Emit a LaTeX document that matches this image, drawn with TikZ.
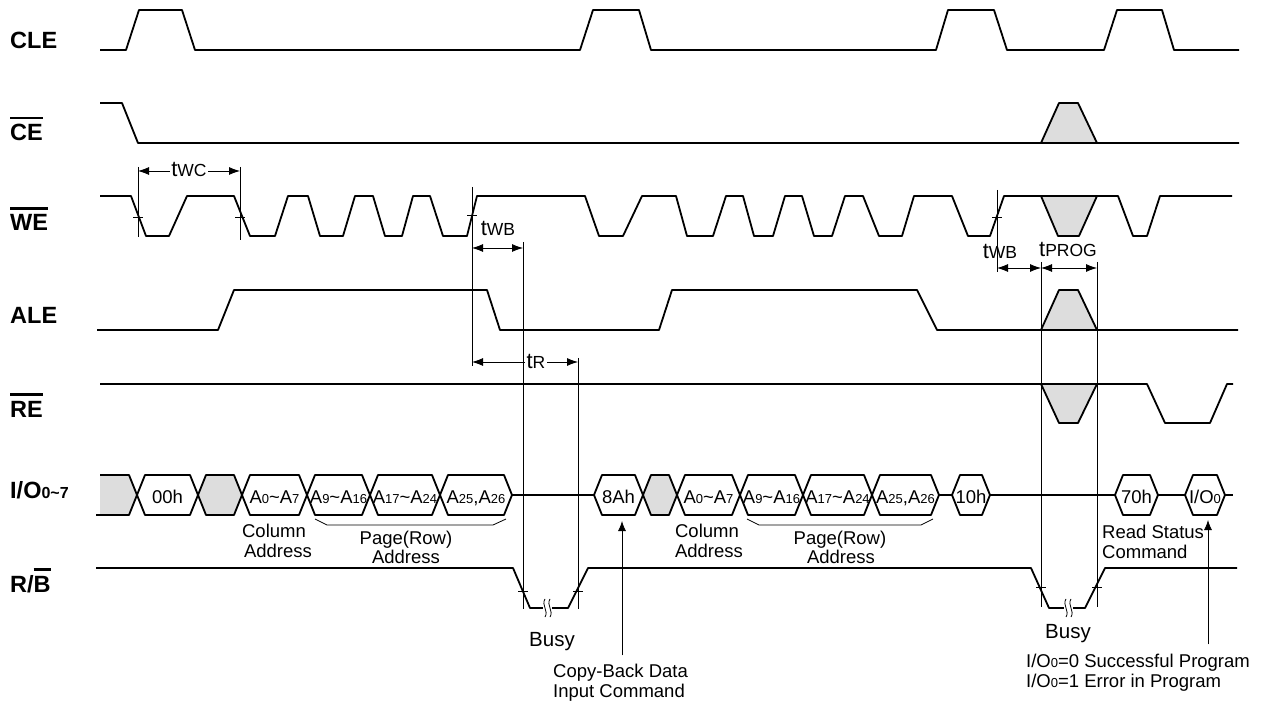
\documentclass[tikz,border=0pt]{standalone}
\usepackage{fontspec}
\setmainfont{Liberation Sans}
\usetikzlibrary{arrows.meta}
\definecolor{cellgray}{HTML}{DDDDDD}
\newcommand\sm[1]{{\fontsize{13}{13}\selectfont #1}}
\newcommand\tsub[1]{{\fontsize{17.5}{17.5}\selectfont #1}}
\newcommand\tname[1]{{\fontsize{22}{22}\selectfont t}\tsub{#1}}
\newcommand\tl{\textasciitilde}
\newcommand\ovl[1]{\setbox0\hbox{#1}\rlap{\raisebox{\dimexpr\ht0+5pt\relax}{\rule{\wd0}{2.5pt}}}\box0}
\newcommand\buscell[4][white]{%
 \draw[sig,fill=#1] (#2,495) -- ({#2+8},475) -- ({#3-8},475) -- (#3,495) -- ({#3-8},515) -- ({#2+8},515) -- cycle;
 \node[txt] (c#2) at ({(#2+#3)/2},503) {#4};}
\begin{document}
\begin{tikzpicture}[x=1pt,y=-1pt,
 sig/.style={line width=1.8pt,line join=round},
 dim/.style={line width=0.8pt},
 arr/.style={dim,-{Latex[length=10pt,width=8pt]}},
 darr/.style={dim,{Latex[length=11pt,width=8pt]}-{Latex[length=11pt,width=8pt]}},
 txt/.style={font=\fontsize{18.5}{20}\selectfont,inner sep=0pt,anchor=base},
 tlab/.style={txt,fill=white,inner xsep=1.5pt},
 lbl/.style={font=\fontsize{23.5}{26}\selectfont\bfseries,inner sep=0pt,anchor=base west}]
 \useasboundingbox (0,0) rectangle (1264,703);
 \node[lbl] (cle) at (10,48.5) {CLE};
 \node[lbl] (ce) at (10,140.5) {\ovl{CE}};
 \node[lbl] (we) at (10,231) {\ovl{WE}};
 \node[lbl] (ale) at (10,324) {ALE};
 \node[lbl] (re) at (10,417) {\ovl{RE}};
 \node[lbl] (io) at (10,498) {I/O{\fontsize{16}{16}\selectfont 0\tl 7}};
 \node[lbl] (rb) at (10,592) {R/\ovl{B}};
 \draw[sig,fill=cellgray] (1041,143) -- (1059,103) -- (1078,103) -- (1097,143) -- cycle;
 \draw[sig,fill=cellgray] (1041,196) -- (1058,236) -- (1079,236) -- (1097,196) -- cycle;
 \draw[sig,fill=cellgray] (1041,330) -- (1059,290) -- (1078,290) -- (1097,330) -- cycle;
 \draw[sig,fill=cellgray] (1041,384) -- (1059,423) -- (1078,423) -- (1097,384) -- cycle;
 \draw[sig] (100,50) -- (126,50) -- (139,10) -- (182,10) -- (195,50) -- (580,50) -- (593,10) -- (639,10) -- (651,50) -- (936,50) -- (948,10) -- (994,10) -- (1007,50) -- (1104,50) -- (1117,10) -- (1162,10) -- (1174,50) -- (1239,50);
 \draw[sig] (100,103) -- (122,103) -- (138,143) -- (1239,143);
 \draw[sig] (100,196) -- (131,196) -- (146,236) -- (169,236) -- (187,196) -- (234,196) -- (250,236) -- (275,236) -- (288,196) -- (308,196) -- (320,236) -- (343,236) -- (355,196) -- (373,196) -- (385,236) -- (402,236) -- (413,196) -- (430,196) -- (443,236) -- (467,236) -- (477,196) -- (585,196) -- (599,236) -- (623,236) -- (642,196) -- (676,196) -- (687,236) -- (713,236) -- (726,196) -- (743,196) -- (754,236) -- (773,236) -- (785,196) -- (802,196) -- (814,236) -- (832,236) -- (845,196) -- (863,196) -- (879,236) -- (902,236) -- (914,196) -- (952,196) -- (968,236) -- (990,236) -- (1004,196) -- (1118,196) -- (1133,236) -- (1147,236) -- (1160,196) -- (1232,196);
 \draw[sig] (97,330) -- (218,330) -- (234,290) -- (487,290) -- (500,330) -- (659,330) -- (672,290) -- (917,290) -- (937,330) -- (1238,330);
 \draw[sig] (100,384) -- (1147,384) -- (1165,423) -- (1210,423) -- (1227,384) -- (1233,384);
 \draw[sig] (96,568) -- (513,568) -- (530,608) -- (568,608) -- (588,568) -- (1031,568) -- (1049,608) -- (1085,608) -- (1105,568) -- (1237,568);
 \fill[white] (543,603) rectangle (552,613);
 \draw[dim] (545,599) .. controls (541,605) and (549,611) .. (545,617);
 \draw[dim] (550,599) .. controls (546,605) and (554,611) .. (550,617);
 \fill[white] (1064,603) rectangle (1073,613);
 \draw[dim] (1066,599) .. controls (1062,605) and (1070,611) .. (1066,617);
 \draw[dim] (1071,599) .. controls (1067,605) and (1075,611) .. (1071,617);
 \fill[cellgray] (100,475) -- (129,475) -- (137,495) -- (129,515) -- (100,515) -- cycle;
 \draw[sig] (100,475) -- (129,475) -- (137,495) -- (129,515) -- (96,515);
 \buscell{137}{198}{00h}
 \buscell[cellgray]{198}{242}{}
 \buscell{242}{307}{A\sm{0}\tl A\sm{7}}
 \buscell{307}{370}{A\sm{9}\tl A\sm{16}}
 \buscell{370}{440}{A\sm{17}\tl A\sm{24}}
 \buscell{440}{512}{A\sm{25},A\sm{26}}
 \draw[sig] (512,495) -- (594,495);
 \buscell{594}{643}{8Ah}
 \buscell[cellgray]{643}{677}{}
 \buscell{677}{740}{A\sm{0}\tl A\sm{7}}
 \buscell{740}{803}{A\sm{9}\tl A\sm{16}}
 \buscell{803}{872}{A\sm{17}\tl A\sm{24}}
 \buscell{872}{939}{A\sm{25},A\sm{26}}
 \draw[sig] (939,495) -- (952,495);
 \buscell{952}{990}{10h}
 \draw[sig] (990,495) -- (1115,495);
 \buscell{1115}{1158}{70h}
 \draw[sig] (1158,495) -- (1185,495);
 \buscell{1185}{1225}{I/O\sm{0}}
 \draw[sig] (1225,495) -- (1233,495);
 \draw[dim] (138,167) -- (138,237);
 \draw[dim] (240,167) -- (240,240);
 \draw[dim] (472,187) -- (472,366);
 \draw[dim] (523,242) -- (523,609);
 \draw[dim] (578,358) -- (578,609);
 \draw[dim] (997,190) -- (997,272);
 \draw[dim] (1041,262) -- (1041,607);
 \draw[dim] (1097,262) -- (1097,607);
 \draw[dim] (133,217) -- (143,217);
 \draw[dim] (235,217) -- (245,217);
 \draw[dim] (467,215) -- (477,215);
 \draw[dim] (992,217) -- (1002,217);
 \draw[dim] (518,591) -- (528,591);
 \draw[dim] (573,591) -- (583,591);
 \draw[dim] (1036,587) -- (1046,587);
 \draw[dim] (1092,587) -- (1102,587);
 \draw[darr] (138,171) -- (240,171);
 \node[tlab] (twc) at (189,177) {\tname{WC}};
 \draw[darr] (472,248) -- (523,248);
 \node[txt] (twba) at (498,236) {\tname{WB}};
 \draw[darr] (472,362) -- (578,362);
 \node[tlab] (tr) at (536,368) {\tname{R}};
 \draw[darr] (997,268) -- (1041,268);
 \node[txt] (twbb) at (1000,259) {\tname{WB}};
 \draw[darr] (1041,268) -- (1097,268);
 \node[txt] (tprog) at (1068,257) {\tname{PROG}};
 \draw[dim] (315,519) -- (327,525) -- (493,525) -- (506,519);
 \draw[dim] (747,519) -- (759,525) -- (921,525) -- (933,519);
 \node[txt] (cola) at (274,537) {Column};
 \node[txt] (colb) at (278,557) {Address};
 \node[txt] (pga) at (406,544) {Page(Row)};
 \node[txt] (pgb) at (406,563) {Address};
 \node[txt] (colc) at (707,537) {Column};
 \node[txt] (cold) at (709,557) {Address};
 \node[txt] (pgc) at (840,544) {Page(Row)};
 \node[txt] (pgd) at (841,563) {Address};
 \node[txt,anchor=base west] (rsa) at (1102,538) {Read Status};
 \node[txt,anchor=base west] (rsb) at (1102,558) {Command};
 \node[txt,font=\fontsize{20.5}{22}\selectfont] (busya) at (552,646) {Busy};
 \node[txt,font=\fontsize{20.5}{22}\selectfont] (busyb) at (1068,638) {Busy};
 \node[txt,anchor=base west] (cpya) at (553,677) {Copy-Back Data};
 \node[txt,anchor=base west] (cpyb) at (553,697) {Input Command};
 \node[txt,anchor=base west] (ioa) at (1026,667) {I/O\sm{0}=0 Successful Program};
 \node[txt,anchor=base west] (iob) at (1026,687) {I/O\sm{0}=1 Error in Program};
 \coordinate (cpyt) at (622,521);
 \coordinate (iot) at (1208,520);
 \draw[arr,shorten <=8pt] (cpya.north -| cpyt) -- (cpyt);
 \draw[arr,shorten <=9pt] (ioa.north -| iot) -- (iot);
\end{tikzpicture}
\end{document}
